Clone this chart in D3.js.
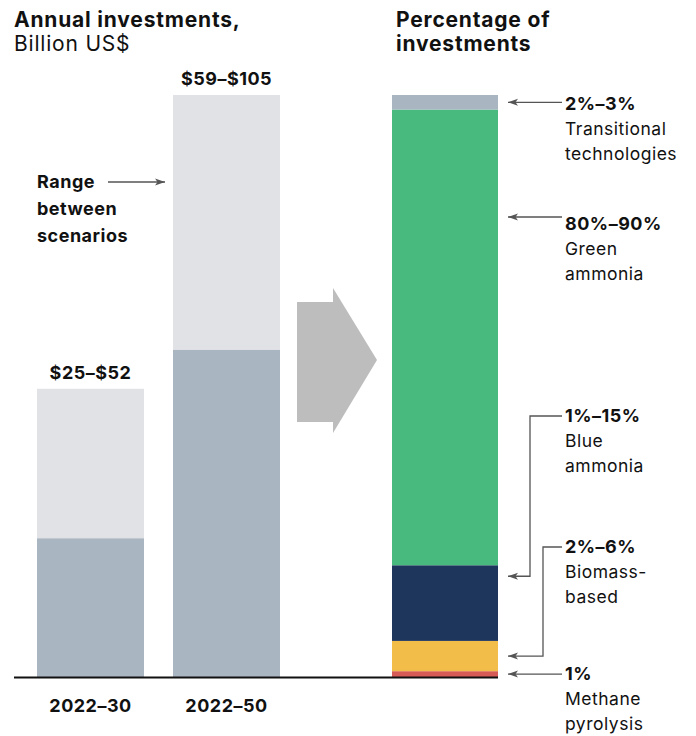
<!DOCTYPE html>
<html>
<head>
<meta charset="utf-8">
<script src="https://cdn.jsdelivr.net/npm/d3@7/dist/d3.min.js"></script>
<style>
  html, body { margin: 0; padding: 0; background: #ffffff; }
  svg { display: block; }
  text { font-family: Inter, "Open Sans", sans-serif; fill: #111111; letter-spacing: 0.5px; }
  text.head { letter-spacing: 0.8px; }
</style>
</head>
<body>
<svg id="chart" width="696" height="736"></svg>
<script>
// Annual investment ranges (billion US$) by period
const periods = ["2022–30", "2022–50"];
const lowValues = [25, 59];
const highValues = [52, 105];
const rangeLabels = ["$25–$52", "$59–$105"];

// Share of investments by technology (bottom to top, %)
const techNames = ["Methane pyrolysis", "Biomass-based", "Blue ammonia", "Green ammonia", "Transitional technologies"];
const techShares = [1, 5.2, 13, 78.3, 2.5];
const techRanges = ["1%", "2%–6%", "1%–15%", "80%–90%", "2%–3%"];
const techColors = ["#d65b57", "#f2bd48", "#1f365c", "#49ba7e", "#a9b5c1"];

const svg = d3.select("#chart");
const baseY = 677;
const topY = 95;
const boldSize = 18, regSize = 17.5, headSize = 21;

// Left panel scales
const x = d3.scaleBand().domain(periods).range([37, 280]).paddingInner(0.2132).paddingOuter(0);
const y = d3.scaleLinear().domain([0, 105]).range([baseY, topY]);

// Right panel scale
const yPct = d3.scaleLinear().domain([0, 100]).range([baseY, topY]);
const stackX = 392, stackW = 106;

// Headings
const heads = [
  { x: 14, y: 27, w: 700, t: "Annual investments," },
  { x: 14, y: 51, w: 400, t: "Billion US$" },
  { x: 396, y: 27, w: 700, t: "Percentage of" },
  { x: 396, y: 51, w: 700, t: "investments" }
];
heads.forEach(h => {
  svg.append("text").attr("class", "head").attr("x", h.x).attr("y", h.y)
    .attr("font-size", headSize).attr("font-weight", h.w).text(h.t);
});

// Range (light) bars then low-value (dark) bars
const left = svg.append("g");
left.selectAll("rect.high").data(periods).join("rect")
  .attr("class", "high")
  .attr("x", d => x(d)).attr("width", x.bandwidth())
  .attr("y", (d, i) => y(highValues[i])).attr("height", (d, i) => baseY - y(highValues[i]))
  .attr("fill", "#e1e2e6");
left.selectAll("rect.low").data(periods).join("rect")
  .attr("class", "low")
  .attr("x", d => x(d)).attr("width", x.bandwidth())
  .attr("y", (d, i) => y(lowValues[i])).attr("height", (d, i) => baseY - y(lowValues[i]))
  .attr("fill", "#a9b5c1");
left.selectAll("text.range").data(periods).join("text")
  .attr("class", "range")
  .attr("x", d => x(d) + x.bandwidth() / 2)
  .attr("y", (d, i) => y(highValues[i]) - 10)
  .attr("text-anchor", "middle").attr("font-size", boldSize).attr("font-weight", 700)
  .text((d, i) => rangeLabels[i]);

// Category axis
const xAxis = svg.append("g").attr("transform", `translate(0,${baseY})`)
  .call(d3.axisBottom(x).tickSize(0).tickPadding(22));
xAxis.select(".domain").remove();
xAxis.selectAll("text")
  .attr("font-size", boldSize).attr("font-weight", 700)
  .style("font-family", "Inter, 'Open Sans', sans-serif").attr("fill", "#111");

// Arrow marker
const defs = svg.append("defs");
defs.append("marker").attr("id", "head").attr("viewBox", "0 0 10 10")
  .attr("refX", 10).attr("refY", 5).attr("markerWidth", 10).attr("markerHeight", 10)
  .attr("markerUnits", "userSpaceOnUse").attr("orient", "auto")
  .append("path").attr("d", "M0,1.5 L10,5 L0,8.5 L2.5,5 Z").attr("fill", "#555");

// "Range between scenarios" note
["Range", "between", "scenarios"].forEach((t, i) => {
  svg.append("text").attr("x", 37).attr("y", 188 + i * 27)
    .attr("font-size", boldSize).attr("font-weight", 700).text(t);
});
svg.append("line").attr("x1", 108).attr("x2", 165).attr("y1", 182).attr("y2", 182)
  .attr("stroke", "#555").attr("stroke-width", 1.3).attr("marker-end", "url(#head)");

// Big transition arrow
svg.append("path")
  .attr("d", "M297,302 L333,302 L333,288 L377,360 L333,433 L333,422 L297,422 Z")
  .attr("fill", "#bdbdbd");

// Stacked share bar
let cum = 0;
const segs = techShares.map((v, i) => {
  const s = { name: techNames[i], v, y0: cum, y1: cum + v, color: techColors[i], label: techRanges[i] };
  cum += v;
  return s;
});
svg.append("g").selectAll("rect").data(segs).join("rect")
  .attr("x", stackX).attr("width", stackW)
  .attr("y", d => yPct(d.y1)).attr("height", d => yPct(d.y0) - yPct(d.y1))
  .attr("fill", d => d.color);

// Baseline
svg.append("line").attr("x1", 14).attr("x2", stackX + stackW).attr("y1", baseY + 0.5).attr("y2", baseY + 0.5)
  .attr("stroke", "#111").attr("stroke-width", 2);

// Share annotations: label baseline, arrow target, optional elbow
const textX = 565, lineEndX = 562, tipX = 508;
const mid = s => (yPct(s.y0) + yPct(s.y1)) / 2;
const notes = [
  { seg: segs[4], ty: 110, lines: ["Transitional", "technologies"], target: mid(segs[4]) },
  { seg: segs[3], ty: 230, lines: ["Green", "ammonia"], target: 217 },
  { seg: segs[2], ty: 422, lines: ["Blue", "ammonia"], target: yPct(segs[2].y1) + 11, elbowX: 530 },
  { seg: segs[1], ty: 553, lines: ["Biomass-", "based"], target: mid(segs[1]), elbowX: 543 },
  { seg: segs[0], ty: 680, lines: ["Methane", "pyrolysis"], target: mid(segs[0]) }
];
notes.forEach(n => {
  svg.append("text").attr("x", textX).attr("y", n.ty).attr("font-size", boldSize).attr("font-weight", 700).text(n.seg.label);
  n.lines.forEach((t, i) => {
    svg.append("text").attr("x", textX).attr("y", n.ty + 25 * (i + 1)).attr("font-size", regSize).attr("font-weight", 400).text(t);
  });
  const hy = n.ty - 6;
  let d;
  if (n.elbowX) {
    d = `M${lineEndX},${hy} L${n.elbowX},${hy} L${n.elbowX},${n.target} L${tipX},${n.target}`;
  } else {
    d = `M${lineEndX},${n.target} L${tipX},${n.target}`;
  }
  svg.append("path").attr("d", d).attr("fill", "none").attr("stroke", "#555")
    .attr("stroke-width", 1.3).attr("marker-end", "url(#head)");
});
</script>
</body>
</html>
